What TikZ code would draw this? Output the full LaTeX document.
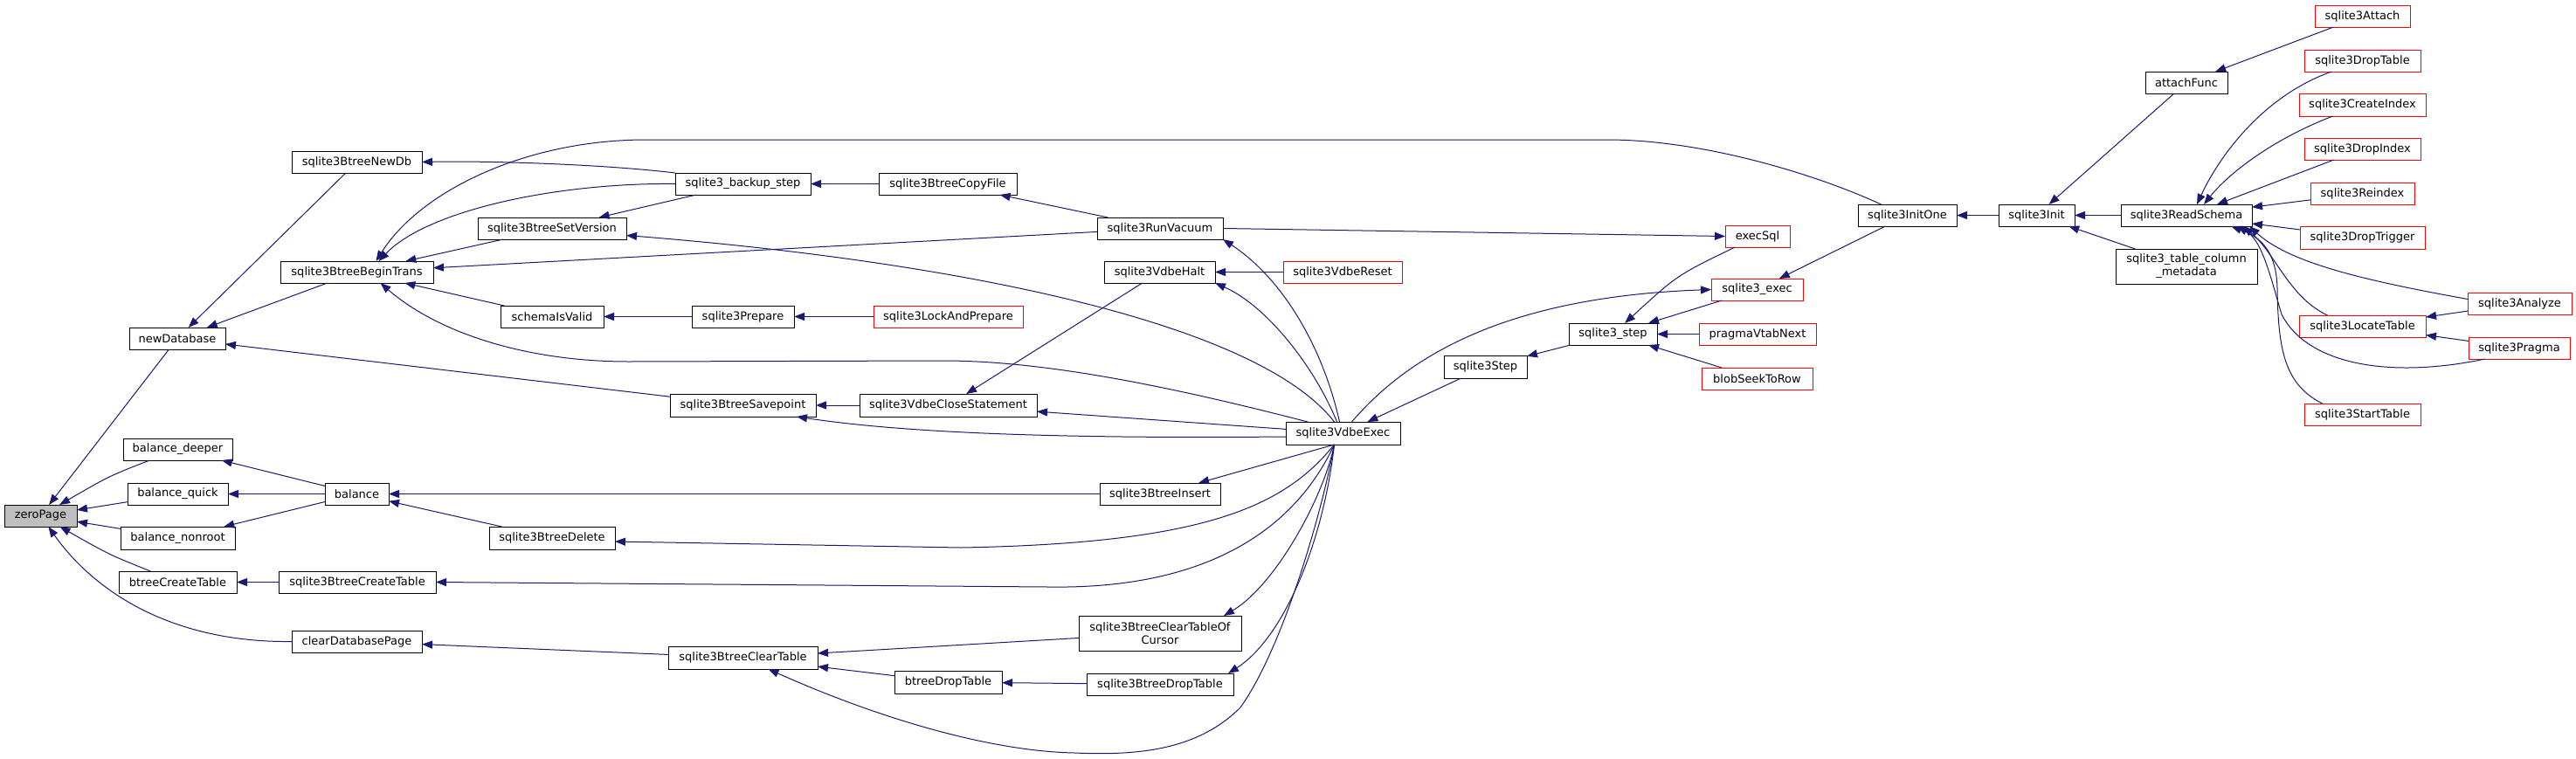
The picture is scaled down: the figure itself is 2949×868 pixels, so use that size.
\documentclass[tikz,border=0pt]{standalone}
\usepackage{fontspec}
\setmainfont{DejaVu Sans}
\usetikzlibrary{arrows.meta}
\definecolor{edgec}{HTML}{191970}
\definecolor{gfill}{HTML}{BFBFBF}
\newcommand\bx[7]{\node[#6, minimum width={(#4-#2)*1pt}, minimum height={(#5-#3)*1pt}] (#1) at ({(#2+#4)/2},{(#3+#5)/2}) {#7};}
\begin{document}
\begin{tikzpicture}[x=1pt,y=-1pt,
  box/.style={draw=black, line width=1pt, inner sep=0pt, outer sep=0pt, font=\fontsize{13}{15}\selectfont, align=center, fill=white},
  rbox/.style={box, draw=red},
  cur/.style={box, fill=gfill},
  edge/.style={draw=edgec, line width=1pt, -{Triangle[length=12pt,width=9pt]}}]
\useasboundingbox[fill=white] (0,0) rectangle (2949,868);
% nodes
\bx{zp}{5}{578}{88}{603}{cur}{zeroPage}
\bx{nd}{148}{375}{258}{400}{box}{newDatabase}
\bx{bdeep}{141}{502}{266}{527}{box}{balance\_deeper}
\bx{bquick}{146}{553}{261}{578}{box}{balance\_quick}
\bx{bnon}{138}{603}{269}{629}{box}{balance\_nonroot}
\bx{bct}{136}{654}{271}{679}{box}{btreeCreateTable}
\bx{cdp}{334}{722}{483}{747}{box}{clearDatabasePage}
\bx{newdb}{334}{173}{483}{198}{box}{sqlite3BtreeNewDb}
\bx{bt}{321}{299}{496}{324}{box}{sqlite3BtreeBeginTrans}
\bx{bal}{372}{553}{445}{578}{box}{balance}
\bx{sbct}{319}{654}{499}{679}{box}{sqlite3BtreeCreateTable}
\bx{bks}{773}{198}{928}{223}{box}{sqlite3\_backup\_step}
\bx{sv}{547}{249}{717}{274}{box}{sqlite3BtreeSetVersion}
\bx{siv}{573}{350}{691}{375}{box}{schemaIsValid}
\bx{prep}{792}{350}{909}{375}{box}{sqlite3Prepare}
\bx{sp}{767}{451}{934}{477}{box}{sqlite3BtreeSavepoint}
\bx{del}{560}{603}{704}{629}{box}{sqlite3BtreeDelete}
\bx{clt}{765}{740}{936}{766}{box}{sqlite3BtreeClearTable}
\bx{cf}{1006}{198}{1164}{223}{box}{sqlite3BtreeCopyFile}
\bx{rv}{1256}{249}{1400}{274}{box}{sqlite3RunVacuum}
\bx{vh}{1264}{299}{1391}{324}{box}{sqlite3VdbeHalt}
\bx{lap}{1000}{350}{1171}{375}{rbox}{sqlite3LockAndPrepare}
\bx{vr}{1469}{299}{1605}{324}{rbox}{sqlite3VdbeReset}
\bx{vcs}{984}{451}{1187}{477}{box}{sqlite3VdbeCloseStatement}
\bx{ve}{1472}{483}{1603}{509}{box}{sqlite3VdbeExec}
\bx{ins}{1259}{553}{1397}{578}{box}{sqlite3BtreeInsert}
\bx{ctoc}{1235}{705}{1421}{745}{box}{sqlite3BtreeClearTableOf\\Cursor}
\bx{bdt}{1024}{768}{1147}{794}{box}{btreeDropTable}
\bx{sbdt}{1244}{771}{1412}{796}{box}{sqlite3BtreeDropTable}
\bx{es}{1975}{258}{2049}{283}{rbox}{execSql}
\bx{sx}{1959}{319}{2064}{344}{rbox}{sqlite3\_exec}
\bx{sst}{1796}{370}{1897}{395}{box}{sqlite3\_step}
\bx{pvn}{1945}{370}{2079}{395}{rbox}{pragmaVtabNext}
\bx{s3s}{1653}{407}{1748}{433}{box}{sqlite3Step}
\bx{bsr}{1948}{421}{2075}{446}{rbox}{blobSeekToRow}
\bx{io}{2127}{234}{2240}{259}{box}{sqlite3InitOne}
\bx{ini}{2288}{234}{2375}{259}{box}{sqlite3Init}
\bx{af}{2456}{82}{2550}{107}{box}{attachFunc}
\bx{rs}{2428}{234}{2578}{259}{box}{sqlite3ReadSchema}
\bx{tcm}{2422}{285}{2584}{325}{box}{sqlite3\_table\_column\\\_metadata}
\bx{att}{2650}{6}{2759}{31}{rbox}{sqlite3Attach}
\bx{dt}{2638}{57}{2771}{82}{rbox}{sqlite3DropTable}
\bx{ci}{2632}{107}{2777}{133}{rbox}{sqlite3CreateIndex}
\bx{di}{2638}{158}{2771}{183}{rbox}{sqlite3DropIndex}
\bx{ri}{2645}{209}{2764}{234}{rbox}{sqlite3Reindex}
\bx{dtr}{2633}{259}{2776}{285}{rbox}{sqlite3DropTrigger}
\bx{an}{2825}{335}{2944}{360}{rbox}{sqlite3Analyze}
\bx{lt}{2632}{361}{2777}{386}{rbox}{sqlite3LocateTable}
\bx{pr}{2826}{386}{2942}{411}{rbox}{sqlite3Pragma}
\bx{st}{2638}{462}{2771}{487}{rbox}{sqlite3StartTable}
% edges: zeroPage
\draw[edge] (nd) -- (zp);
\draw[edge] (bdeep) .. controls (125,545) .. (zp);
\draw[edge] (bquick) -- (zp);
\draw[edge] (bnon) -- (zp);
\draw[edge] (bct) .. controls (125,635) .. (zp);
\draw[edge] (cdp.west) .. controls (200,736) and (110,680) .. (zp);
% newDatabase
\draw[edge] (newdb) -- (nd);
\draw[edge] (bt) -- (nd);
\draw[edge] (sp) -- (nd);
% balance
\draw[edge] (bal) -- (bdeep);
\draw[edge] (bal) -- (bquick);
\draw[edge] (bal) -- (bnon);
\draw[edge] (sbct) -- (bct);
\draw[edge] (clt) -- (cdp);
% NewDb / BeginTrans
\draw[edge] (bks.north west) .. controls (690,188) and (560,184) .. (newdb.east);
\draw[edge] (bks.west) .. controls (640,209) and (490,240) .. ([xshift=25pt]bt.north);
\draw[edge] (sv) -- (bt);
\draw[edge] (rv) -- (bt);
\draw[edge] (siv) -- (bt);
\draw[edge] ([xshift=25pt]ve.north west) .. controls (1350,445) and (1200,413) .. (1080,413) -- (720,414) .. controls (600,414) and (500,380) .. ([xshift=27pt]bt.south);
\draw[edge] ([xshift=-30pt]io.north) .. controls (2080,200) and (1950,160) .. (1840,160) -- (740,160) .. controls (600,160) and (480,220) .. ([xshift=22pt]bt.north);
% backup step / set version
\draw[edge] (cf) -- (bks);
\draw[edge] (bks) -- (sv);
\draw[edge] ([xshift=-10pt]ve.north) .. controls (1440,370) and (1100,300) .. ([yshift=-8pt]sv.east);
% RunVacuum
\draw[edge] (rv) -- (cf);
\draw[edge] ([xshift=-4pt]ve.north) .. controls (1515,400) and (1470,320) .. (rv.south east);
\draw[edge] (rv.east) -- (es.west);
% Prepare
\draw[edge] (prep) -- (siv);
\draw[edge] (lap) -- (prep);
% VdbeHalt
\draw[edge] (vh) -- (vcs);
\draw[edge] (vr) -- (vh);
\draw[edge] ([xshift=-7pt]ve.north) .. controls (1505,420) and (1450,350) .. (vh.south east);
% Savepoint
\draw[edge] (vcs) -- (sp);
\draw[edge] ([yshift=-4pt]ve.west) .. controls (1250,502) and (1050,498) .. ([xshift=-22pt]sp.south east);
\draw[edge] (ve) -- (vcs);
% Insert / Delete / CreateTable
\draw[edge] (ins) -- (bal);
\draw[edge] (del) -- (bal);
\draw[edge] ([xshift=-10pt]ve.south) -- (ins);
\draw[edge] ([xshift=-10pt]ve.south) .. controls (1470,580) and (1380,622) .. (1100,627) -- ([yshift=-4pt]del.east);
\draw[edge] ([xshift=-10pt]ve.south) .. controls (1485,600) and (1390,675) .. (1200,672) -- (sbct.east);
% ClearTable
\draw[edge] (ctoc) -- (clt);
\draw[edge] (bdt) -- (clt);
\draw[edge] ([xshift=-10pt]ve.south) .. controls (1515,580) and (1470,740) .. (1420,810) .. controls (1370,860) and (1300,865) .. (1230,862) .. controls (1130,860) and (1000,820) .. (clt);
\draw[edge] (sbdt) -- (bdt);
\draw[edge] ([xshift=-10pt]ve.south) .. controls (1515,570) and (1460,670) .. ([xshift=-20pt]ctoc.north east);
\draw[edge] ([xshift=-10pt]ve.south) .. controls (1515,620) and (1470,730) .. ([xshift=-6pt]sbdt.north east);
% Step chain
\draw[edge] (s3s) -- (ve);
\draw[edge] (sst) -- (s3s);
\draw[edge] (sx) -- (sst);
\draw[edge] (pvn) -- (sst);
\draw[edge] (bsr) -- (sst);
\draw[edge] (es) .. controls (1920,315) .. (sst);
\draw[edge] ([xshift=10pt]ve.north) .. controls (1610,410) and (1720,340) .. (sx.west);
\draw[edge] (io) -- (sx);
% Init
\draw[edge] (ini) -- (io);
\draw[edge] (af) -- (ini);
\draw[edge] (rs) -- (ini);
\draw[edge] (tcm) -- (ini);
\draw[edge] (att) -- (af);
% ReadSchema
\draw[edge] (dt) .. controls (2590,110) and (2540,180) .. ([xshift=12pt]rs.north);
\draw[edge] (ci) .. controls (2600,160) and (2550,200) .. ([xshift=20pt]rs.north);
\draw[edge] (di) -- ([xshift=35pt]rs.north);
\draw[edge] (ri) -- (rs);
\draw[edge] (dtr) -- (rs);
\draw[edge] ([yshift=5pt]an.west) .. controls (2700,320) and (2620,300) .. ([xshift=-3pt]rs.south east);
\draw[edge] ([xshift=-40pt]lt.north) .. controls (2620,340) and (2605,290) .. ([xshift=-10pt]rs.south east);
\draw[edge] ([xshift=-39pt]pr.south) .. controls (2730,435) and (2640,415) .. (2612,360) .. controls (2600,320) and (2590,275) .. ([xshift=-17pt]rs.south east);
\draw[edge] ([xshift=-46pt]st.north) .. controls (2615,440) and (2608,400) .. (2607,330) .. controls (2606,290) and (2590,272) .. ([xshift=-24pt]rs.south east);
\draw[edge] (an) -- (lt);
\draw[edge] (pr) -- (lt);
\end{tikzpicture}
\end{document}
